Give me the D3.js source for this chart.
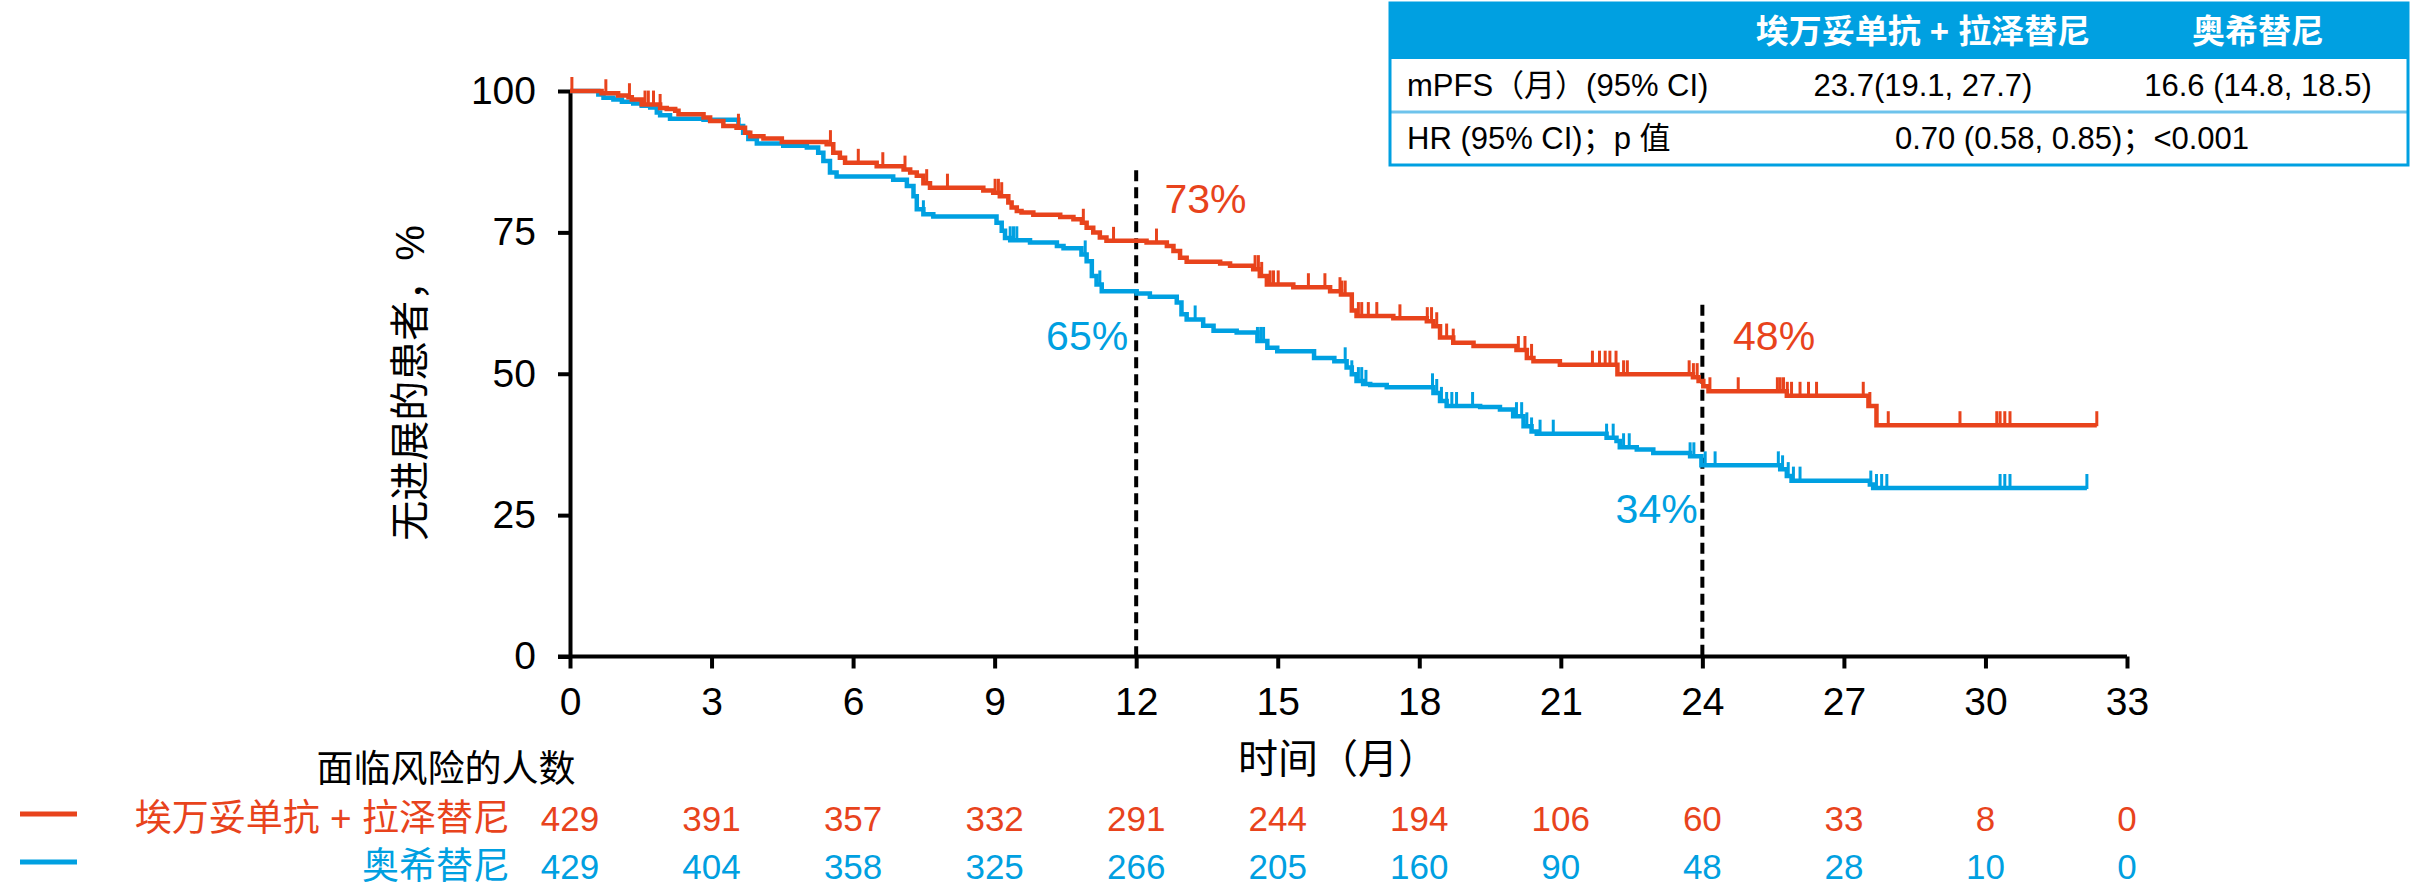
<!DOCTYPE html>
<html>
<head>
<meta charset="utf-8">
<script src="https://cdn.jsdelivr.net/npm/d3@7"></script>
<style>
  body { margin: 0; background: #fff; }
  svg text { font-family: "Liberation Sans", Arial, "Noto Sans CJK SC", sans-serif; }
</style>
</head>
<body>
<script>
// data
var timeTicks = [0, 3, 6, 9, 12, 15, 18, 21, 24, 27, 30, 33];
var pctTicks = [0, 25, 50, 75, 100];
var groupNames = ["埃万妥单抗 + 拉泽替尼", "奥希替尼"];
var riskAmiLaz = [429, 391, 357, 332, 291, 244, 194, 106, 60, 33, 8, 0];
var riskOsi = [429, 404, 358, 325, 266, 205, 160, 90, 48, 28, 10, 0];

// step points [month, % progression free]
var kmAmiLaz = [[0,100],[0.67,99.6],[1.02,99.2],[1.24,98.9],[1.31,98.5],[1.52,97.6],[1.91,97.0],[2.05,96.8],
  [2.23,96.5],[2.30,95.9],[2.83,95.3],[2.97,94.7],[3.25,93.8],[3.53,93.5],[3.71,92.6],[3.82,92.0],[4.10,91.6],
  [4.49,91.0],[5.44,90.6],[5.58,89.1],[5.72,88.2],[5.83,87.3],[6.50,86.7],[7.07,86.1],[7.21,85.6],[7.35,85.0],
  [7.49,83.7],[7.63,82.9],[8.76,82.4],[8.97,82.0],[9.11,81.4],[9.29,80.3],[9.36,79.4],[9.47,78.8],[9.57,78.5],
  [9.82,78.1],[10.39,77.7],[10.67,77.3],[10.85,76.7],[10.95,75.8],[11.09,75.0],[11.23,74.1],[11.37,73.5],
  [12.22,73.2],[12.65,72.6],[12.79,71.7],[12.93,70.5],[13.07,69.8],[13.78,69.5],[13.99,69.1],[14.48,68.5],
  [14.62,67.3],[14.77,65.8],[15.33,65.3],[16.11,64.6],[16.34,64.0],[16.57,61.2],[16.67,60.2],[17.45,59.8],
  [18.16,59.3],[18.30,58.4],[18.44,56.4],[18.72,55.5],[19.15,54.9],[20.06,54.2],[20.28,52.8],[20.42,52.2],
  [20.98,51.6],[22.20,49.9],[23.80,49.4],[23.92,48.7],[24.02,47.8],[24.13,46.9],[25.79,46.1],[27.52,44.3],
  [27.69,40.9]];
var kmOsi = [[0,100],[0.60,99.4],[0.71,98.8],[0.92,98.5],[1.10,98.1],[1.34,97.8],[1.52,97.4],[1.70,97.1],
  [1.84,96.2],[1.91,95.7],[2.12,95.1],[2.83,94.9],[3.57,93.8],[3.67,92.6],[3.78,91.5],[3.96,90.7],[4.52,90.3],
  [5.02,90.0],[5.26,89.1],[5.37,87.6],[5.51,85.6],[5.65,84.9],[6.85,84.3],[7.14,83.2],[7.28,81.4],[7.35,79.1],
  [7.49,78.2],[7.70,77.8],[9.04,76.7],[9.15,75.3],[9.22,74.0],[9.33,73.6],[9.75,73.2],[10.32,72.6],[10.46,72.2],
  [10.84,71.1],[10.95,69.9],[11.06,67.3],[11.16,65.8],[11.27,64.6],[12.01,64.2],[12.29,63.6],[12.86,62.6],
  [12.96,60.5],[13.07,59.6],[13.42,58.5],[13.64,57.6],[14.13,57.3],[14.57,55.8],[14.78,54.6],[14.99,54.0],
  [15.77,52.8],[16.20,52.2],[16.46,51.1],[16.57,49.9],[16.67,48.7],[16.81,48.2],[16.96,48.0],[17.31,47.6],
  [18.30,46.6],[18.44,45.2],[18.58,44.3],[19.29,44.1],[19.71,43.7],[19.99,42.5],[20.21,40.7],[20.38,39.8],
  [20.49,39.4],[21.97,38.7],[22.18,38.1],[22.25,37.0],[22.61,36.6],[22.96,36.0],[23.74,35.4],[23.98,33.8],
  [25.65,33.1],[25.79,31.9],[25.89,31.1],[27.55,30.4],[27.62,29.8]];
var endAmiLaz = 32.36, endOsi = 32.15;

// censored times (tick marks)
var censorAmiLaz = [0.04,0.76,1.26,1.59,1.66,1.77,1.91,3.57,5.52,6.11,6.63,7.10,7.56,8.00,9.01,9.08,9.15,
  10.88,11.52,12.43,14.52,14.59,14.66,14.84,14.91,15.01,15.65,16.00,16.32,16.36,16.43,16.71,16.78,16.92,17.10,
  17.59,18.17,18.26,18.37,18.58,18.72,20.10,20.24,20.38,21.67,21.82,21.94,22.04,22.17,22.33,22.41,23.72,23.81,
  23.89,24.16,24.76,25.59,25.65,25.72,25.80,25.89,26.07,26.25,26.42,27.41,27.55,27.94,29.46,30.24,30.31,30.41,
  30.52,32.36];
var censorOsi = [7.35,7.49,9.33,9.40,9.47,10.92,11.23,13.25,14.57,14.64,14.70,16.43,16.57,16.71,16.78,16.87,
  18.28,18.37,18.47,18.58,18.69,18.79,19.13,20.06,20.17,20.28,20.38,20.56,20.84,21.97,22.11,22.33,22.45,23.74,
  23.82,24.06,24.27,25.61,25.70,25.82,25.93,26.07,27.57,27.69,27.80,27.91,30.31,30.41,30.52,32.15];

var landmarkMonths = [12, 24];
var landmarkAmiLaz = ["73%", "48%"];
var landmarkOsi = ["65%", "34%"];

var tableHeader = ["", "埃万妥单抗 + 拉泽替尼", "奥希替尼"];
var tableMPFS = ["mPFS（月）(95% CI)", "23.7(19.1, 27.7)", "16.6 (14.8, 18.5)"];
var tableHR = ["HR (95% CI)；p 值", "0.70 (0.58, 0.85)；<0.001"];

var red = "#E8431C", blue = "#00A0E1";

var svg = d3.select("body").append("svg")
  .attr("width", 2428)
  .attr("height", 884);

var x = d3.scaleLinear().domain([0, 33]).range([570, 2127]);
var y = d3.scaleLinear().domain([0, 100]).range([656.5, 91]);

// axes
var xAxis = svg.append("g")
  .attr("transform", "translate(0," + y(0) + ")")
  .call(d3.axisBottom(x).tickValues(timeTicks).tickSizeInner(12).tickSizeOuter(0).tickPadding(19));
var yAxis = svg.append("g")
  .attr("transform", "translate(" + x(0) + ",0)")
  .call(d3.axisLeft(y).tickValues(pctTicks).tickSizeInner(12).tickSizeOuter(0).tickPadding(22));
[xAxis, yAxis].forEach(function(g) {
  g.select(".domain").attr("stroke", "#000").attr("stroke-width", 4);
  g.selectAll(".tick line").attr("stroke", "#000").attr("stroke-width", 4);
  g.selectAll(".tick text").attr("fill", "#000").style("font-size", "39px");
});
xAxis.select(".domain").attr("d", "M" + (x(0) - 12) + ",0H" + x(33));

// axis titles
svg.append("text")
  .attr("x", 1338).attr("y", 759)
  .attr("dominant-baseline", "central")
  .style("text-anchor", "middle").style("font-size", "40px")
  .text("时间（月）");
svg.append("text")
  .attr("transform", "translate(410," + 383 + ") rotate(-90)")
  .attr("dominant-baseline", "central")
  .style("text-anchor", "middle").style("font-size", "40px")
  .text("无进展的患者，%");

// landmark dashed lines
var dashTop = [86, 62.2];
landmarkMonths.forEach(function(m, i) {
  svg.append("line")
    .attr("x1", x(m)).attr("x2", x(m))
    .attr("y1", y(dashTop[i])).attr("y2", y(0))
    .attr("stroke", "#000").attr("stroke-width", 4)
    .attr("stroke-dasharray", "11,6");
});

// KM curves
var stepLine = d3.line()
  .x(function(d) { return x(d[0]); })
  .y(function(d) { return y(d[1]); })
  .curve(d3.curveStepAfter);

var bis = d3.bisector(function(d) { return d[0]; }).right;
function valueAt(km, t) { return km[Math.max(0, bis(km, t) - 1)][1]; }

function drawCurve(km, end, censors, color) {
  var pts = km.concat([[end, km[km.length - 1][1]]]);
  svg.append("path")
    .datum(pts)
    .attr("fill", "none")
    .attr("stroke", color)
    .attr("stroke-width", 4.5)
    .attr("d", stepLine);
  svg.append("g").selectAll("line")
    .data(censors)
    .enter().append("line")
    .attr("x1", function(d) { return x(d); })
    .attr("x2", function(d) { return x(d); })
    .attr("y1", function(d) { return y(valueAt(km, d)) + 1; })
    .attr("y2", function(d) { return y(valueAt(km, d)) - 14; })
    .attr("stroke", color)
    .attr("stroke-width", 3);
}
drawCurve(kmOsi, endOsi, censorOsi, blue);
drawCurve(kmAmiLaz, endAmiLaz, censorAmiLaz, red);

// landmark labels
var redLabelPos = [[12.6, 78.4], [24.65, 54.2]];
var blueLabelPos = [[11.83, 54.2], [23.9, 23.6]];
landmarkMonths.forEach(function(m, i) {
  svg.append("text")
    .attr("x", x(redLabelPos[i][0])).attr("y", y(redLabelPos[i][1]))
    .attr("fill", red).style("font-size", "41px")
    .text(landmarkAmiLaz[i]);
  svg.append("text")
    .attr("x", x(blueLabelPos[i][0])).attr("y", y(blueLabelPos[i][1]))
    .attr("fill", blue).style("font-size", "41px").style("text-anchor", "end")
    .text(landmarkOsi[i]);
});

// number at risk
svg.append("text")
  .attr("x", 446).attr("y", 769)
  .attr("dominant-baseline", "central")
  .style("text-anchor", "middle").style("font-size", "37px")
  .text("面临风险的人数");

var riskRows = [{name: groupNames[0], vals: riskAmiLaz, color: red, cy: 818},
                {name: groupNames[1], vals: riskOsi, color: blue, cy: 866}];
riskRows.forEach(function(r) {
  svg.append("line")
    .attr("x1", 20).attr("x2", 77)
    .attr("y1", r.cy - 4).attr("y2", r.cy - 4)
    .attr("stroke", r.color).attr("stroke-width", 5);
  svg.append("text")
    .attr("x", 510).attr("y", r.cy)
    .attr("dominant-baseline", "central")
    .attr("fill", r.color)
    .style("text-anchor", "end").style("font-size", "37px")
    .text(r.name);
  svg.append("g").selectAll("text")
    .data(r.vals)
    .enter().append("text")
    .attr("x", function(d, i) { return x(timeTicks[i]); })
    .attr("y", r.cy)
    .attr("dominant-baseline", "central")
    .attr("fill", r.color)
    .style("text-anchor", "middle").style("font-size", "35px")
    .text(function(d) { return d; });
});

// summary table, top right
var tb = svg.append("g");
var tLeft = 1390, tRight = 2408, rowsY = [3, 59, 112, 165];
var colX = [1407, 1923, 2258];
tb.append("rect")
  .attr("x", tLeft).attr("y", rowsY[0])
  .attr("width", tRight - tLeft).attr("height", rowsY[1] - rowsY[0])
  .attr("fill", blue);
tb.append("line")
  .attr("x1", tLeft).attr("x2", tRight).attr("y1", rowsY[2]).attr("y2", rowsY[2])
  .attr("stroke", "#6EC3EC").attr("stroke-width", 3);
tb.append("rect")
  .attr("x", tLeft).attr("y", rowsY[0])
  .attr("width", tRight - tLeft).attr("height", rowsY[3] - rowsY[0])
  .attr("fill", "none").attr("stroke", blue).attr("stroke-width", 3);

tableHeader.forEach(function(s, i) {
  tb.append("text")
    .attr("x", colX[i]).attr("y", (rowsY[0] + rowsY[1]) / 2)
    .attr("dominant-baseline", "central")
    .attr("fill", "#fff")
    .style("font-weight", "bold").style("font-size", "33px")
    .style("text-anchor", i === 0 ? "start" : "middle")
    .text(s);
});
tableMPFS.forEach(function(s, i) {
  tb.append("text")
    .attr("x", colX[i]).attr("y", (rowsY[1] + rowsY[2]) / 2)
    .attr("dominant-baseline", "central")
    .style("font-size", "31px")
    .style("text-anchor", i === 0 ? "start" : "middle")
    .text(s);
});
tb.append("text")
  .attr("x", colX[0]).attr("y", (rowsY[2] + rowsY[3]) / 2)
  .attr("dominant-baseline", "central")
  .style("font-size", "31px")
  .text(tableHR[0]);
tb.append("text")
  .attr("x", 2072).attr("y", (rowsY[2] + rowsY[3]) / 2)
  .attr("dominant-baseline", "central")
  .style("font-size", "31px").style("text-anchor", "middle")
  .text(tableHR[1]);
</script>
</body>
</html>
